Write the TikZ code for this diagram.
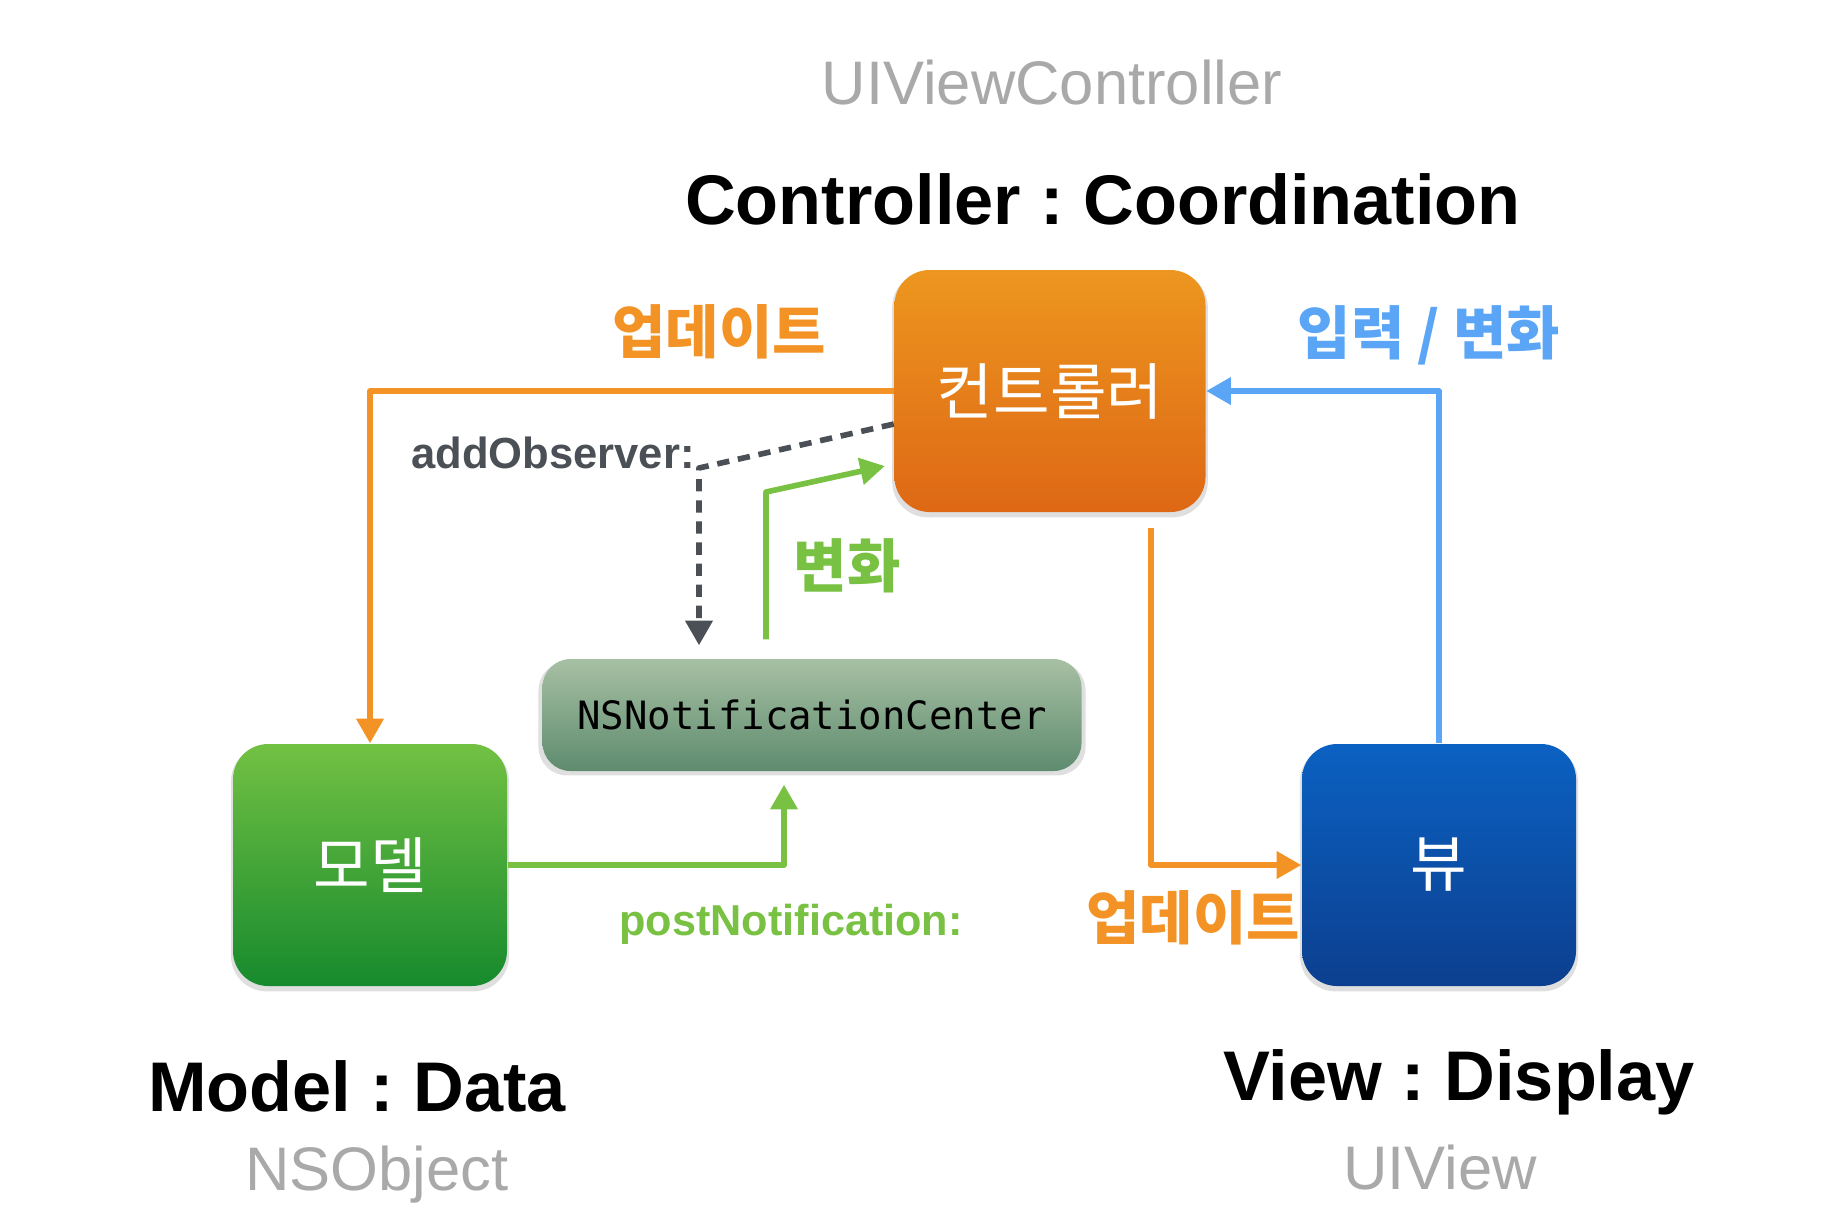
\documentclass[tikz,border=0pt]{standalone}
\usepackage{fontspec}
\setmainfont{Liberation Sans}
\newfontfamily\krfont{Noto Sans CJK KR}
\newfontfamily\nsmono{DejaVu Sans Mono}
\usetikzlibrary{arrows.meta,shadows,positioning}
\definecolor{updorange}{HTML}{F39325}
\definecolor{inblue}{HTML}{5AA5F5}
\definecolor{chgreen}{HTML}{78C143}
\definecolor{obsgray}{HTML}{4B4F56}
\definecolor{subgray}{HTML}{A9A9A9}
\definecolor{ctrtop}{HTML}{ED961F}
\definecolor{ctrbot}{HTML}{DE6815}
\definecolor{mdltop}{HTML}{72C143}
\definecolor{mdlbot}{HTML}{168A2D}
\definecolor{viewtop}{HTML}{0B61C2}
\definecolor{viewbot}{HTML}{0C3F8F}
\definecolor{nctop}{HTML}{A7C0A4}
\definecolor{ncbot}{HTML}{5E8B6E}
\newcommand\fsz[1]{\fontsize{#1}{#1}\selectfont\frenchspacing}
\begin{document}
\begin{tikzpicture}[>={Triangle[length=7pt,width=7.5pt]},line join=round,
	box/.style={rounded corners=10pt,minimum width=2.74cm,minimum height=2.42cm,text=white,font=\krfont\fsz{17.5},
		drop shadow={shadow xshift=0pt,shadow yshift=-1pt,shadow scale=1.015,opacity=.25}},
	link/.style={line width=1.6pt,->},
	title/.style={font=\bfseries\fsz{20}},
	sub/.style={text=subgray,font=\fsz{17.5}},
	klabel/.style={font=\krfont\bfseries\fsz{16.5}}]
	 \useasboundingbox (0,0) rectangle (18.48,-12.14);
	 \node[box,top color=ctrtop,bottom color=ctrbot,minimum width=3.11cm] (ctrl) at (10.50,-3.91) {컨트롤러};
	 \node[box,top color=mdltop,bottom color=mdlbot] (model) at (3.70,-8.65) {모델};
	 \node[box,top color=viewtop,bottom color=viewbot] (view) at (14.39,-8.65) {뷰};
	 \node[box,top color=nctop,bottom color=ncbot,rounded corners=8pt,minimum width=5.39cm,minimum height=1.12cm,
		text=black,font=\nsmono\fsz{11.1}] (nc) at (8.12,-7.15) {NSNotificationCenter};
	 \node[sub] (uivc) at (10.52,-0.83) {UIViewController};
	 \node[title] (ctitle) at (11.03,-1.99) {Controller : Coordination};
	 \node[klabel,text=updorange] (upd1) at (7.19,-3.32) {업데이트};
	 \node[klabel,text=inblue] (inp) at (14.29,-3.35) {입력 / 변화};
	 \node[font=\bfseries\fsz{12.4},text=obsgray] (obs) at (5.53,-4.53) {addObserver:};
	 \node[klabel,text=chgreen] (chg) at (8.47,-5.66) {변화};
	 \node[font=\bfseries\fsz{12.3},text=chgreen] (post) at (7.91,-9.24) {postNotification:};
	 \node[klabel,text=updorange] (upd2) at (11.93,-9.18) {업데이트};
	 \node[title] (mtitle) at (3.57,-10.86) {Model : Data};
	 \node[sub] (nsobj) at (3.77,-11.75) {NSObject};
	 \node[title] (vtitle) at (14.59,-10.82) {View : Display};
	 \node[sub] (uiview) at (14.40,-11.67) {UIView};
	 \coordinate (updStart) at ([xshift=1.01cm,yshift=-.15cm]ctrl.south);
	 \coordinate (postTip) at ([xshift=-.28cm,yshift=-.13cm]nc.south);
	 \coordinate (obsStart) at ([yshift=-.33cm]ctrl.west);
	 \coordinate (obsBend) at (6.99,-4.68);
	 \coordinate (obsTip) at ([xshift=-1.13cm,yshift=.13cm]nc.north);
	 \coordinate (chgStart) at ([xshift=-.46cm,yshift=.19cm]nc.north);
	 \coordinate (chgBend) at (7.66,-4.92);
	 \coordinate (chgTip) at ([xshift=-.09cm,yshift=-.75cm]ctrl.west);
	 \draw[link,updorange] (ctrl.west) -| (model.north);
	 \draw[link,updorange] (updStart) |- (view.west);
	 \draw[link,inblue] (view.north) |- (ctrl.east);
	 \draw[link,chgreen] (model.east) -| (postTip);
	 \draw[link,chgreen] (chgStart) -- (chgBend) -- (chgTip);
	 \draw[link,obsgray,dash pattern=on 3.5pt off 2.5pt] (obsStart) -- (obsBend) -- (obsTip);
\end{tikzpicture}
\end{document}
